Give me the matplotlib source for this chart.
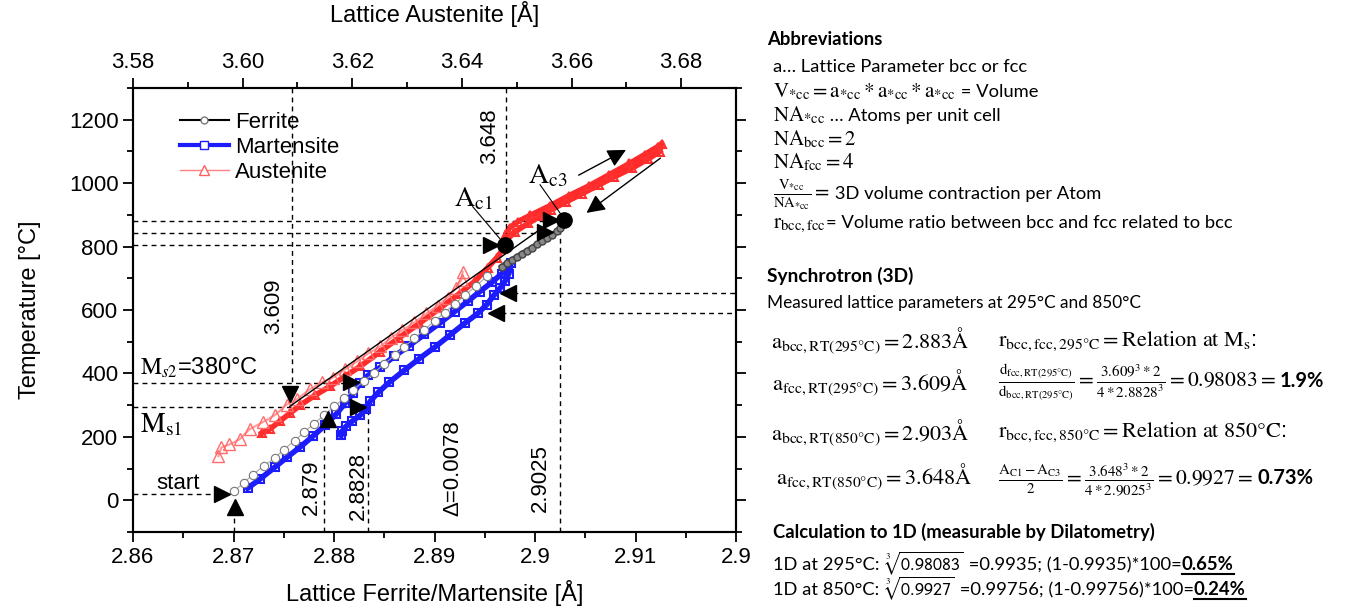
import matplotlib
matplotlib.use('Agg')
import matplotlib.pyplot as plt
from matplotlib.lines import Line2D

plt.rcParams['font.family'] = ['Liberation Sans', 'DejaVu Sans']
plt.rcParams['mathtext.fontset'] = 'stix'

W, H = 1368, 609
SANS = ['Lato', 'DejaVu Sans']

# ferrite (heating, open circles) and the dense part above 700 C
fer_x = [2.8700, 2.8710, 2.8719, 2.8730, 2.8741, 2.8750, 2.8761, 2.8770, 2.8780, 2.8790,
         2.8800, 2.8810, 2.8819, 2.8830, 2.8840, 2.8850, 2.8861, 2.8870, 2.8880, 2.8890,
         2.8900, 2.8910, 2.8920, 2.8930, 2.8941, 2.8952]
fer_T = [28, 54, 81, 108, 133, 160, 188, 214, 242, 268,
         296, 322, 348, 376, 402, 430, 458, 484, 511, 538,
         565, 592, 619, 646, 675, 706]
fer2_x = [2.8967, 2.8972, 2.8977, 2.8982, 2.8987, 2.8992, 2.8997, 2.9002, 2.9007,
          2.9012, 2.9017, 2.9022, 2.9025]
fer2_T = [737, 748, 758, 768, 778, 787, 797, 807, 817, 827, 837, 848, 857]

# martensite loop (up branch then down branch)
mar_x = [2.8714, 2.8726, 2.8741, 2.8753, 2.8766, 2.8779, 2.8791, 2.8802, 2.8811, 2.8819,
         2.8826, 2.8834, 2.8846, 2.8860, 2.8875, 2.8890, 2.8905, 2.8920, 2.8933, 2.8945,
         2.8957, 2.8967, 2.8973, 2.8976,
         2.8974, 2.8970, 2.8965, 2.8959, 2.8952, 2.8943, 2.8930, 2.8915, 2.8900, 2.8885,
         2.8870, 2.8855, 2.8844, 2.8836, 2.8832, 2.8826, 2.8818, 2.8812, 2.8808, 2.8807]
mar_T = [38, 66, 104, 135, 167, 202, 236, 271, 306, 337,
         369, 394, 419, 454, 488, 523, 558, 595, 627, 658,
         687, 715, 734, 747,
         715, 690, 668, 646, 617, 589, 558, 520, 482, 447,
         410, 372, 340, 312, 287, 268, 249, 233, 217, 205]

# austenite, light strand (cooling) and saturated strand with loop at the top
aus1_x = [2.8685, 2.8688, 2.8696, 2.8706, 2.8716, 2.8729, 2.8741, 2.8753, 2.8763, 2.8776,
          2.8788, 2.8799, 2.8811, 2.8823, 2.8834, 2.8846, 2.8857, 2.8868, 2.8880, 2.8892,
          2.8903, 2.8913, 2.8921, 2.8927, 2.8928]
aus1_T = [139, 167, 176, 192, 224, 246, 268, 302, 318, 350,
          372, 387, 413, 438, 463, 485, 513, 536, 561, 589,
          614, 639, 668, 696, 721]
aus2_x = [2.8728, 2.8736, 2.8746, 2.8756, 2.8766, 2.8781, 2.8796, 2.8811, 2.8826, 2.8846,
          2.8865, 2.8885, 2.8905, 2.8925, 2.8940, 2.8953, 2.8962, 2.8968, 2.8970, 2.8971,
          2.8975, 2.8983, 2.8995, 2.9015, 2.9034, 2.9054, 2.9074, 2.9094, 2.9109, 2.9122,
          2.9126, 2.9124, 2.9112, 2.9097, 2.9079, 2.9064, 2.9047, 2.9031, 2.9016, 2.9005,
          2.8993, 2.8980, 2.8968]
aus2_T = [211, 224, 249, 274, 299, 331, 359, 391, 422, 469,
          513, 558, 605, 652, 690, 734, 765, 791, 810, 841,
          860, 879, 898, 929, 961, 992, 1027, 1062, 1090, 1115,
          1125, 1099, 1075, 1048, 1020, 995, 967, 941, 916, 895,
          873, 846, 810]

fit_x = [2.8756, 2.9005]
fit_T = [296, 854]

# markers and guide lines
ac_x = [2.8970, 2.9029]
ac_T = [806, 885]
tri_r_x = [2.8689, 2.8817, 2.8824, 2.8956, 2.9016, 2.9010]
tri_r_T = [19, 372, 293, 806, 885, 847]
tri_l_x = [2.8973, 2.8961]
tri_l_T = [655, 589]
tri_u_x = [2.8701, 2.8794]
tri_u_T = [-22, 255]
tri_d_x = [2.8756]
tri_d_T = [334]

h_levels = [882, 844, 806, 370, 295, 19, 655, 589]
h_from = [2.86, 2.86, 2.86, 2.86, 2.86, 2.86, 2.8978, 2.8966]
h_to = [2.9029, 2.9005, 2.8955, 2.8809, 2.8816, 2.8685, 2.92, 2.92]
v_pos = [2.870, 2.879, 2.8834, 2.9025]
v_top = [-22, 255, 293, 857]
vt_pos = [3.609, 3.648]
vt_bot = [334, 844]

fig = plt.figure(figsize=(W / 100, H / 100), dpi=100)
ax = fig.add_axes([133 / W, 1 - 532 / H, 603 / W, 444 / H])
ax2 = ax.twiny()

ax.plot(aus2_x, aus2_T, color='#ff2b2b', lw=4, marker='^', ms=6, mfc='none', mec='#ff3030', mew=1.5, zorder=3)
ax.plot(aus1_x, aus1_T, color='#ff9a9a', lw=1.5, marker='^', ms=9, mfc='none', mec='#ff6a6a', zorder=3)
ax.plot(mar_x, mar_T, color='#1c1cff', lw=4, marker='s', ms=6, mfc='none', mec='#1c1cff', mew=1.5, zorder=4)
ax.plot(fer_x, fer_T, color='#aaaaaa', lw=0.8, marker='o', ms=6, mfc='white', mec='#777777', mew=0.8, zorder=5)
ax.plot(fer2_x, fer2_T, color='#555555', lw=4, marker='o', ms=5, mfc='#888888', mec='#444444', zorder=5)
ax.plot(fit_x, fit_T, color='black', lw=1, zorder=6)

dash = dict(color='black', lw=1, ls=(0, (3.5, 3)), zorder=2)
for lv, a, b in zip(h_levels, h_from, h_to):
    ax.plot([a, b], [lv, lv], **dash)
for xv, tv in zip(v_pos, v_top):
    ax.plot([xv, xv], [-100, tv], **dash)
for xv, tv in zip(vt_pos, vt_bot):
    ax2.plot([xv, xv], [1300, tv], **dash)

tri = dict(color='black', ls='none', ms=12, zorder=7)
ax.plot(tri_r_x, tri_r_T, marker='>', **tri)
ax.plot(tri_l_x, tri_l_T, marker='<', **tri)
ax.plot(tri_u_x, tri_u_T, marker='^', **tri)
ax.plot(tri_d_x, tri_d_T, marker='v', **tri)
ax.plot(ac_x, ac_T, 'o', color='black', ms=11, zorder=8)

# heating / cooling arrows
arr = dict(arrowstyle='-|>', color='black', lw=1, mutation_scale=28)
ax.annotate('', xy=(2.9093, 1109), xytext=(2.9041, 1021), arrowprops=arr, zorder=8)
ax.annotate('', xy=(2.9049, 901), xytext=(2.9127, 1084), arrowprops=arr, zorder=8)

# labels inside the plot
ax.plot([2.8938, 2.8965], [926, 825], color='black', lw=0.8, zorder=8)
ax.plot([2.9005, 2.9026], [995, 901], color='black', lw=0.8, zorder=8)
ax.text(2.8939, 951, r'$\mathrm{A}_{\mathrm{c1}}$', fontsize=20, ha='center', va='center')
ax.text(2.90125, 1021, r'$\mathrm{A}_{\mathrm{c3}}$', fontsize=20, ha='center', va='center')
ax.text(2.8607, 419, r'$\mathrm{M}_{s2}$=380°C', fontsize=17, ha='left', va='center')
ax.text(2.8607, 236, r'$\mathrm{M}_{\mathrm{s1}}$', fontsize=20, ha='left', va='center')
ax.text(2.8645, 54, 'start', fontsize=16, ha='center', va='center')
rot = dict(fontsize=16, rotation=90, ha='center', va='center')
ax.text(2.8955, 1147, '3.648', **rot)
ax.text(2.8740, 611, '3.609', **rot)
ax.text(2.8777, 41, '2.879', **rot)
ax.text(2.8824, 44, '2.8828', **rot)
ax.text(2.8918, 101, 'Δ=0.0078', **rot)
ax.text(2.9005, 69, '2.9025', **rot)

ax.set_xlim(2.86, 2.92)
ax.set_ylim(-100, 1300)
ax2.set_xlim(3.58, 3.69)
ax.set_xticks([2.86, 2.87, 2.88, 2.89, 2.90, 2.91, 2.92])
ax.set_xticklabels(['2.86', '2.87', '2.88', '2.89', '2.9', '2.91', '2.9'])
ax.set_xticks([2.865, 2.875, 2.885, 2.895, 2.905, 2.915], minor=True)
ax.set_yticks([0, 200, 400, 600, 800, 1000, 1200])
ax.set_yticks([-100, 100, 300, 500, 700, 900, 1100, 1300], minor=True)
ax2.set_xticks([3.58, 3.60, 3.62, 3.64, 3.66, 3.68])
ax2.set_xticklabels(['3.58', '3.60', '3.62', '3.64', '3.66', '3.68'])
ax2.set_xticks([3.59, 3.61, 3.63, 3.65, 3.67], minor=True)
for a in (ax, ax2):
    a.tick_params(which='major', direction='out', length=7, width=1.3, labelsize=16)
    a.tick_params(which='minor', direction='out', length=4, width=1.3)
    for s in a.spines.values():
        s.set_linewidth(1.5)
ax.tick_params(axis='y', which='both', right=True)
ax.set_xlabel('Lattice Ferrite/Martensite [Å]', fontsize=17, labelpad=9)
ax.set_ylabel('Temperature [°C]', fontsize=17, labelpad=20)
ax2.set_xlabel('Lattice Austenite [Å]', fontsize=17, labelpad=22)

handles = [Line2D([], [], color='black', lw=1.5, marker='o', ms=5, mfc='white', mec='#777777'),
           Line2D([], [], color='#1c1cff', lw=3, marker='s', ms=6, mfc='white', mec='#1c1cff'),
           Line2D([], [], color='#ff8080', lw=1, marker='^', ms=7, mfc='white', mec='#ff6060')]
ax.legend(handles, ['Ferrite', 'Martensite', 'Austenite'], loc='upper left', bbox_to_anchor=(0.063, 0.966),
          frameon=False, fontsize=16, handlelength=2.2, handletextpad=0.3, labelspacing=0.18,
          borderaxespad=0)

# text panel on the right
rend = fig.canvas.get_renderer()


def row(x, y, parts):
    t = None
    for s, kw in parts:
        t = fig.text(x / W, 1 - y / H, s, ha='left', va='baseline', **kw)
        x += t.get_window_extent(rend).width
    return t


def underline(t, y):
    bb = t.get_window_extent(rend)
    fig.add_artist(Line2D([bb.x0 / W, bb.x1 / W], [1 - y / H] * 2, color='black', lw=1.5,
                          transform=fig.transFigure))


bold = dict(family=SANS, fontsize=13.3, fontweight='bold')
body = dict(family=SANS, fontsize=13.2)
m1 = dict(fontsize=15)
m2 = dict(fontsize=16)
m3 = dict(fontsize=15.5)

row(767, 45, [('Abbreviations', bold)])
row(773, 72, [('a… Lattice Parameter bcc or fcc', body)])
row(773, 97, [(r'$\mathrm{V}_{*\mathrm{cc}}=\mathrm{a}_{*\mathrm{cc}}*\mathrm{a}_{*\mathrm{cc}}*\mathrm{a}_{*\mathrm{cc}}$', m1),
              (' = Volume', body)])
row(773, 121, [(r'$\mathrm{NA}_{*\mathrm{cc}}$', m1), (' … Atoms per unit cell', body)])
row(773, 145, [(r'$\mathrm{NA}_{\mathrm{bcc}}=2$', m1)])
row(773, 168, [(r'$\mathrm{NA}_{\mathrm{fcc}}=4$', m1)])
row(773, 199, [(r'$\frac{\mathrm{V}_{*\mathrm{cc}}}{\mathrm{NA}_{*\mathrm{cc}}}=$', m1),
               (' 3D volume contraction per Atom', body)])
row(773, 228, [(r'$\mathrm{r}_{\mathrm{bcc,fcc}}$', m1), ('= Volume ratio between bcc and fcc related to bcc', body)])

row(767, 282, [('Synchrotron (3D)', dict(family=SANS, fontsize=13.8, fontweight='bold'))])
row(767, 308, [('Measured lattice parameters at 295°C and 850°C', dict(family=SANS, fontsize=12.4))])
row(771, 348, [(r'$\mathrm{a}_{\mathrm{bcc,RT(295°C)}}=2.883\mathrm{Å}$', m2)])
row(772, 390, [(r'$\mathrm{a}_{\mathrm{fcc,RT(295°C)}}=3.609\mathrm{Å}$', m2)])
row(771, 440, [(r'$\mathrm{a}_{\mathrm{bcc,RT(850°C)}}=2.903\mathrm{Å}$', m2)])
row(776, 484, [(r'$\mathrm{a}_{\mathrm{fcc,RT(850°C)}}=3.648\mathrm{Å}$', m2)])
row(998, 346, [(r'$\mathrm{r}_{\mathrm{bcc,fcc,295°C}}=\mathrm{Relation\ at\ M_s}$:', m2)])
row(998, 387, [(r'$\frac{\mathrm{d}_{\mathrm{fcc,RT(295°C)}}}{\mathrm{d}_{\mathrm{bcc,RT(295°C)}}}='
                r'\frac{3.609^3*2}{4*2.8828^3}=0.98083=$ ', m3),
               ('1.9%', dict(family=SANS, fontsize=14.5, fontweight='bold'))])
row(998, 437, [(r'$\mathrm{r}_{\mathrm{bcc,fcc,850°C}}=\mathrm{Relation\ at\ 850°C}$:', m2)])
row(998, 484, [(r'$\frac{\mathrm{A}_{\mathrm{C1}}-\mathrm{A}_{\mathrm{C3}}}{2}='
                r'\frac{3.648^3*2}{4*2.9025^3}=0.9927=$ ', m3),
               ('0.73%', dict(family=SANS, fontsize=14.5, fontweight='bold'))])

row(773, 538, [('Calculation to 1D (measurable by Dilatometry)', bold)])
t = row(773, 570, [('1D at 295°C: ', body), (r'$\sqrt[3]{\mathsf{0.98083}}$', dict(fontsize=13)),
                   (' =0.9935; (1-0.9935)*100=', body), ('0.65%', bold)])
underline(t, 574)
t = row(773, 595, [('1D at 850°C: ', body), (r'$\sqrt[3]{\mathsf{0.9927}}$', dict(fontsize=13)),
                   (' =0.99756; (1-0.99756)*100=', body), ('0.24%', bold)])
underline(t, 599)

fig.savefig('out.png', dpi=100)
